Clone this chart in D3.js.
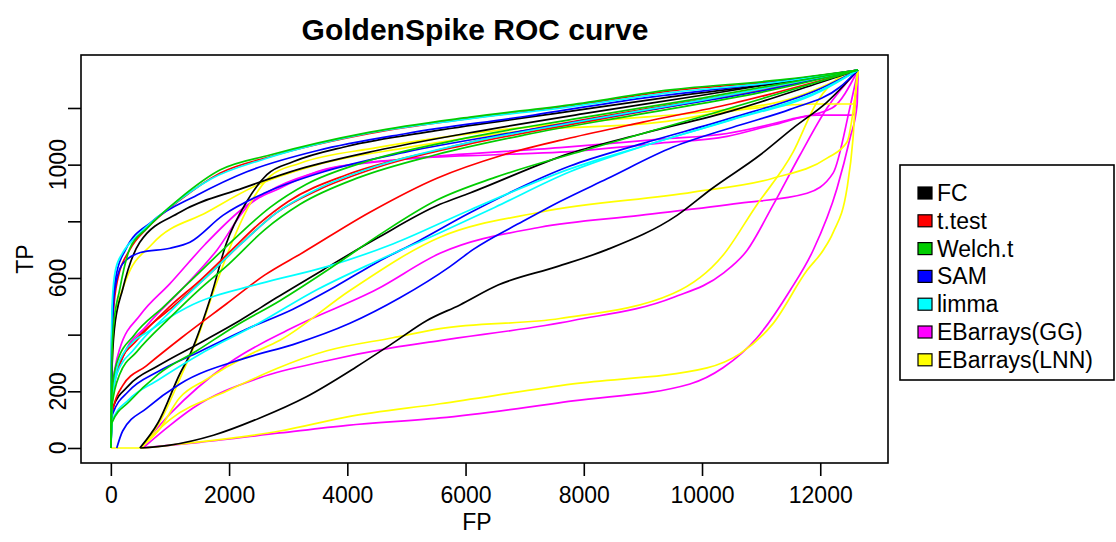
<!DOCTYPE html>
<html>
<head>
<meta charset="utf-8">
<script src="https://cdn.jsdelivr.net/npm/d3@7"></script>
<style>
  html, body { margin: 0; padding: 0; background: #fff; }
  svg { display: block; }
  text { font-family: "Liberation Sans", Arial, sans-serif; fill: #000; }
</style>
</head>
<body>
<svg id="chart" width="1116" height="542"></svg>
<script>
// ---------- data ----------
const methods = ["FC", "t.test", "Welch.t", "SAM", "limma", "EBarrays(GG)", "EBarrays(LNN)"];
const methodColors = ["#000000", "#FF0000", "#00CD00", "#0000FF", "#00FFFF", "#FF00FF", "#FFFF00"];
const xTicks = [0, 2000, 4000, 6000, 8000, 10000, 12000];
const yTicks = [0, 200, 400, 600, 800, 1000, 1200];
const yTickLabels = [0, 200, 600, 1000];

// each curve: [FP, TP] pairs
const fcCurves = [
  [[0,0],[15,250],[60,420],[200,560],[490,726],[1168,832],[2233,917],[3200,985],[4500,1050],[6000,1110],[8000,1180],[10000,1245],[12640,1334]],
  [[490,0],[800,90],[1168,262],[1337,330],[1700,540],[1950,720],[2300,870],[2640,965],[3080,1010],[4000,1065],[5500,1120],[7500,1180],[9500,1240],[11500,1295],[12640,1334]],
  [[0,0],[30,140],[300,220],[800,290],[1500,370],[2183,450],[2800,530],[3600,630],[4500,740],[5567,860],[6074,900],[7766,1040],[9000,1110],[10500,1190],[12000,1290],[12640,1334]],
  [[500,0],[1000,10],[1735,45],[2520,106],[3300,180],[4144,285],[4770,370],[5347,450],[5905,505],[6550,575],[7547,640],[8393,700],[9577,821],[10164,915],[10981,1034],[11540,1129],[12115,1221],[12640,1334]]
];
const ttestCurves = [
  [[0,0],[12,280],[40,470],[120,600],[321,700],[609,775],[1168,875],[1844,970],[2690,1028],[4382,1110],[6074,1163],[7766,1207],[9459,1260],[11320,1296],[12640,1334]],
  [[0,0],[20,180],[150,300],[440,380],[1000,500],[1500,590],[2000,690],[2500,790],[3000,870],[4000,965],[5500,1050],[7000,1120],[9000,1195],[11000,1265],[12640,1334]],
  [[0,0],[20,120],[200,220],[600,290],[1200,390],[1963,510],[2600,610],[3250,690],[4382,832],[5516,952],[6633,1034],[7766,1094],[9000,1150],[10500,1215],[12640,1334]],
  [[0,0],[25,200],[200,320],[500,400],[1000,490],[1600,600],[2200,720],[2800,830],[3500,910],[4500,990],[6000,1070],[8000,1150],[10000,1225],[12640,1334]]
];
const welchCurves = [
  [[0,0],[10,250],[40,420],[150,560],[321,704],[609,775],[1168,881],[1844,981],[2690,1034],[4382,1115],[6074,1168],[7766,1211],[9459,1264],[11320,1299],[12640,1334]],
  [[0,0],[20,150],[150,260],[440,340],[1000,460],[1500,560],[2000,650],[2600,770],[3200,860],[4200,955],[5500,1035],[7000,1105],[9000,1180],[11000,1255],[12640,1334]],
  [[0,0],[20,90],[321,166],[800,260],[1455,343],[2100,430],[2860,520],[3824,650],[4600,760],[5516,875],[6500,955],[8000,1050],[10000,1170],[12640,1334]],
  [[0,0],[20,200],[100,300],[400,400],[900,500],[1500,620],[2100,740],[2700,850],[3300,930],[4300,1010],[5800,1085],[7800,1160],[10000,1235],[12640,1334]]
];
const samCurves = [
  [[0,0],[8,300],[30,500],[100,620],[250,700],[700,800],[1455,892],[2300,975],[3500,1050],[5000,1110],[7000,1170],[9000,1235],[11000,1285],[12640,1334]],
  [[0,0],[15,300],[60,550],[200,650],[500,690],[1000,705],[1337,726],[1895,821],[2600,900],[3600,975],[5000,1045],[7000,1120],[9000,1190],[11000,1260],[12640,1334]],
  [[0,0],[30,120],[300,200],[800,270],[1500,340],[2300,420],[3080,490],[3800,570],[4500,655],[5200,730],[6074,830],[7766,995],[9000,1075],[10500,1165],[12000,1268],[12640,1334]],
  [[100,0],[200,60],[609,141],[1168,226],[2300,319],[3080,365],[4044,440],[4890,530],[5736,640],[6125,700],[6971,800],[7597,870],[8393,950],[9510,1062],[10643,1140],[11489,1195],[12335,1274],[12640,1334]]
];
const limmaCurves = [
  [[0,0],[6,300],[25,520],[80,630],[203,690],[450,750],[1000,850],[1700,950],[2600,1020],[4200,1105],[6000,1160],[7800,1205],[9500,1255],[11300,1292],[12640,1334]],
  [[0,0],[20,160],[100,260],[400,350],[1000,480],[1600,600],[2200,720],[2800,830],[3500,915],[4500,995],[6000,1075],[8000,1155],[10000,1228],[12640,1334]],
  [[0,0],[30,200],[200,330],[700,420],[1286,496],[2520,580],[3655,640],[4770,720],[6074,840],[7766,985],[9000,1065],[10500,1160],[12000,1262],[12640,1334]],
  [[0,0],[30,100],[300,170],[800,240],[1500,330],[2500,440],[3500,560],[4500,660],[5567,760],[6500,850],[7766,975],[9000,1065],[10500,1158],[12000,1258],[12640,1334]]
];
const ggCurves = [
  [[0,0],[25,180],[200,320],[600,430],[1200,560],[1800,700],[2300,850],[2860,917],[3655,985],[5000,1020],[6500,1035],[7597,1044],[9290,1076],[10423,1100],[11200,1140],[11946,1175],[12555,1175],[12640,1334]],
  [[0,0],[20,200],[150,350],[500,470],[1000,580],[1600,720],[2200,840],[2800,920],[3600,980],[5000,1020],[7597,1060],[9290,1090],[10423,1110],[11500,1160],[12200,1200],[12640,1334]],
  [[500,0],[1000,120],[2000,300],[3080,425],[4500,560],[5567,687],[7259,779],[8951,821],[10643,864],[11777,899],[12217,970],[12504,1204],[12640,1334]],
  [[541,0],[1000,80],[1390,141],[2520,248],[3655,308],[4770,354],[5567,379],[7817,450],[9510,531],[10355,616],[10761,697],[11201,857],[11658,1034],[12115,1200],[12640,1334]],
  [[500,0],[1500,20],[2860,53],[4000,80],[5567,106],[7817,166],[9797,226],[10355,283],[10931,389],[11489,556],[11878,697],[12284,917],[12504,1094],[12623,1211],[12640,1334]]
];
const lnnCurves = [
  [[0,0],[15,250],[60,430],[250,590],[700,720],[1624,832],[2500,930],[3500,1000],[5000,1060],[7000,1120],[9290,1150],[10500,1190],[11946,1214],[12555,1214],[12640,1334]],
  [[520,0],[850,100],[1200,260],[1450,380],[1750,560],[2000,700],[2350,860],[2700,960],[3200,1005],[4500,1060],[6500,1120],[8500,1160],[10000,1185],[11540,1235],[12640,1334]],
  [[500,0],[800,60],[1168,178],[1600,240],[2350,330],[2860,380],[4044,556],[5567,744],[7259,832],[9848,903],[11201,952],[12115,1023],[12453,1080],[12640,1334]],
  [[500,0],[1000,100],[1963,201],[3655,343],[4770,389],[5567,421],[7597,457],[9510,545],[10355,680],[10900,850],[11540,1044],[11946,1221],[12386,1317],[12640,1334]],
  [[0,0],[500,0],[1168,14],[2860,60],[4000,110],[5567,156],[7817,226],[10085,283],[10643,333],[11201,439],[11777,627],[12047,697],[12217,760],[12453,917],[12555,1094],[12623,1317],[12640,1334]]
];
const curvesByMethod = [fcCurves, ttestCurves, welchCurves, samCurves, limmaCurves, ggCurves, lnnCurves];

// ---------- layout ----------
const svg = d3.select("#chart");
const box = { left: 81, right: 888, top: 55, bottom: 463 };
const x = d3.scaleLinear().domain([-505, 13146]).range([box.left, box.right]);
const y = d3.scaleLinear().domain([-53, 1387]).range([box.bottom, box.top]);

svg.append("clipPath").attr("id", "plotclip").append("rect")
  .attr("x", box.left).attr("y", box.top)
  .attr("width", box.right - box.left).attr("height", box.bottom - box.top);

const line = d3.line().x(d => x(d[0])).y(d => y(d[1])).curve(d3.curveMonotoneX);

const drawOrder = [5, 6, 0, 1, 3, 4, 2];
const g = svg.append("g").attr("clip-path", "url(#plotclip)");
drawOrder.forEach(mi => {
  curvesByMethod[mi].forEach(c => {
    g.append("path").attr("d", line(c))
      .attr("fill", "none").attr("stroke", methodColors[mi])
      .attr("stroke-width", 1.7).attr("stroke-linejoin", "round");
  });
});

svg.append("rect").attr("x", box.left).attr("y", box.top)
  .attr("width", box.right - box.left).attr("height", box.bottom - box.top)
  .attr("fill", "none").attr("stroke", "#000").attr("stroke-width", 1.6);

const xAxis = svg.append("g").attr("transform", `translate(0,${box.bottom})`)
  .call(d3.axisBottom(x).tickValues(xTicks).tickSize(13).tickPadding(11).tickFormat(d3.format("d")));
xAxis.select(".domain").remove();
xAxis.selectAll("line").attr("stroke", "#000").attr("stroke-width", 1.6);
xAxis.selectAll("text").style("font-size", "23px").style("font-family", "'Liberation Sans', Arial, sans-serif");

const yAxis = svg.append("g").attr("transform", `translate(${box.left},0)`)
  .call(d3.axisLeft(y).tickValues(yTicks).tickSize(13).tickFormat(""));
yAxis.select(".domain").remove();
yAxis.selectAll("line").attr("stroke", "#000").attr("stroke-width", 1.6);
svg.append("g").selectAll("text").data(yTickLabels).join("text")
  .attr("transform", d => `translate(66,${y(d)}) rotate(-90)`)
  .attr("text-anchor", "middle").style("font-size", "23px").text(d => d);

svg.append("text").attr("x", 475).attr("y", 40)
  .attr("text-anchor", "middle").style("font-size", "30px").style("font-weight", "bold")
  .text("GoldenSpike ROC curve");
svg.append("text").attr("x", 477).attr("y", 530)
  .attr("text-anchor", "middle").style("font-size", "23px").text("FP");
svg.append("text").attr("transform", `translate(33,${(box.top + box.bottom) / 2}) rotate(-90)`)
  .attr("text-anchor", "middle").style("font-size", "23px").text("TP");

const lg = svg.append("g");
lg.append("rect").attr("x", 900).attr("y", 165).attr("width", 214).attr("height", 215)
  .attr("fill", "#fff").attr("stroke", "#000").attr("stroke-width", 1.6);
methods.forEach((m, i) => {
  const cy = 193 + i * 27.8;
  lg.append("rect").attr("x", 918).attr("y", cy - 6).attr("width", 14).attr("height", 12)
    .attr("fill", methodColors[i]).attr("stroke", "#000").attr("stroke-width", 1.2);
  lg.append("text").attr("x", 937).attr("y", cy + 8).style("font-size", "23px").text(m);
});
</script>
</body>
</html>
